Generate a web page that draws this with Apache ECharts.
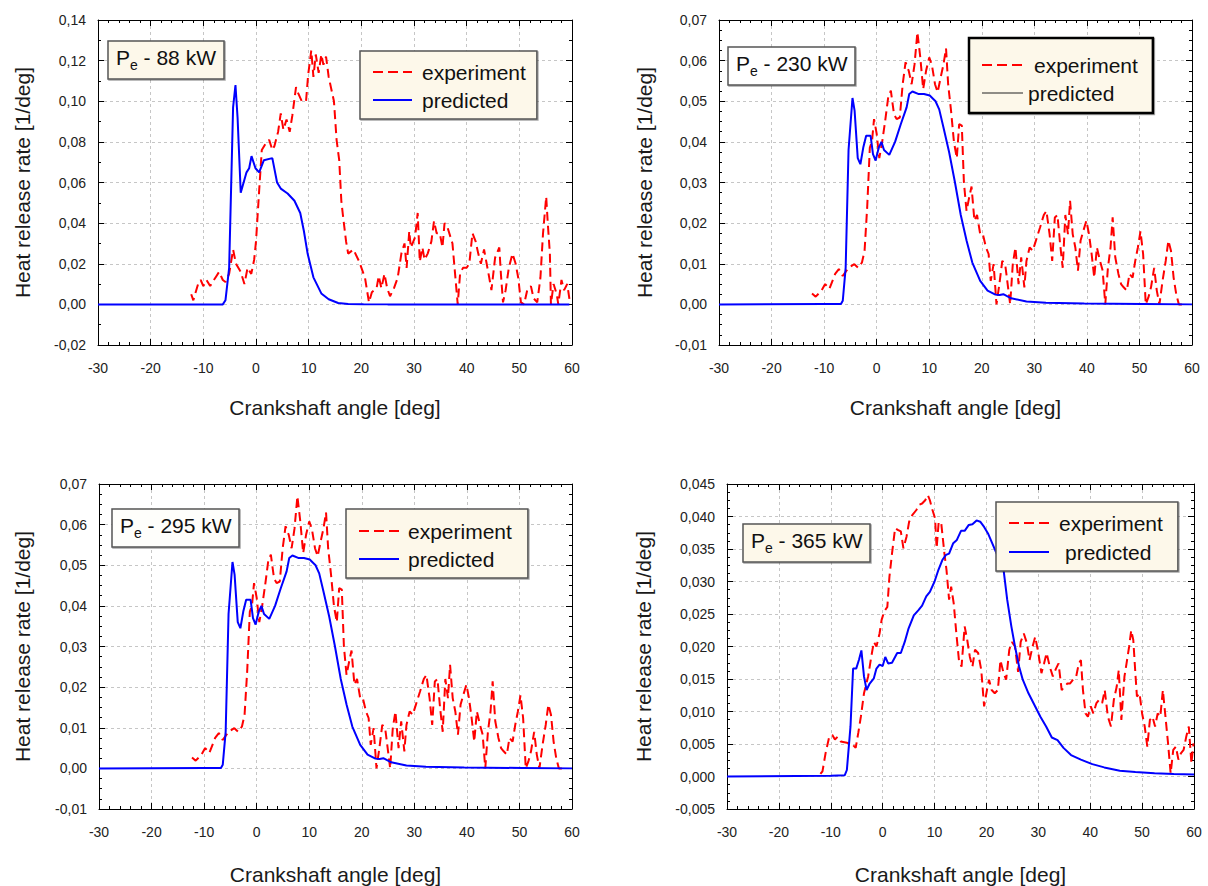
<!DOCTYPE html>
<html><head><meta charset="utf-8">
<script src="https://cdn.jsdelivr.net/npm/echarts@6/dist/echarts.min.js"></script>
<style>html,body{margin:0;padding:0;background:#fff}#c{width:1208px;height:886px}</style>
</head><body><div id="c"></div>
<script>
// ---------- data (crank angle [deg], heat release rate [1/deg]) ----------
const xRange = [-30, 60, 10];
const yRange88 = [-0.02, 0.14, 0.02];
const yRange230 = [-0.01, 0.07, 0.01];
const yRange295 = [-0.01, 0.07, 0.01];
const yRange365 = [-0.005, 0.045, 0.005];
const titles = ['88 kW', '230 kW', '295 kW', '365 kW'];
const seriesNames = ['experiment', 'predicted'];

const exp88 = [[-12.3,0.005],[-11.9,0.002],[-11.0,0.010],[-10.5,0.012],[-10.0,0.009],[-9.4,0.012],[-8.7,0.009],[-8.0,0.012],[-7.5,0.014],[-7.0,0.016],[-6.3,0.012],[-5.8,0.011],[-5.1,0.015],[-4.35,0.027],[-3.8,0.020],[-2.9,0.016],[-2.2,0.010],[-1.6,0.018],[-0.9,0.015],[-0.35,0.022],[0.0,0.031],[0.6,0.056],[1.1,0.076],[1.8,0.079],[2.5,0.081],[3.1,0.076],[3.5,0.078],[4.2,0.085],[4.7,0.094],[5.2,0.086],[5.8,0.091],[6.4,0.085],[6.9,0.093],[7.6,0.107],[8.0,0.104],[8.7,0.100],[9.5,0.100],[9.9,0.113],[10.5,0.125],[10.9,0.112],[11.35,0.123],[11.9,0.114],[12.4,0.123],[12.8,0.118],[13.3,0.122],[13.8,0.112],[14.8,0.100],[15.3,0.081],[15.8,0.071],[16.2,0.051],[16.5,0.044],[17.1,0.031],[17.5,0.025],[18.5,0.027],[19.6,0.021],[20.7,0.013],[21.45,0.001],[22.0,0.006],[22.9,0.008],[23.3,0.014],[23.8,0.008],[24.4,0.015],[24.9,0.008],[25.45,0.004],[26.2,0.008],[26.9,0.013],[27.6,0.025],[28.2,0.030],[28.6,0.018],[29.1,0.036],[29.4,0.028],[30.2,0.033],[30.7,0.045],[31.1,0.021],[31.6,0.028],[32.0,0.022],[32.6,0.025],[33.3,0.031],[33.8,0.041],[34.3,0.035],[34.9,0.035],[35.4,0.028],[35.8,0.040],[36.35,0.038],[37.3,0.030],[37.8,0.015],[38.3,0.000],[38.75,0.015],[39.3,0.018],[40.0,0.018],[40.5,0.020],[41.1,0.035],[41.7,0.031],[42.2,0.025],[42.7,0.020],[43.3,0.027],[43.8,0.020],[44.3,0.013],[44.7,0.007],[45.4,0.023],[46.2,0.028],[46.5,0.015],[46.9,0.001],[47.4,0.007],[48.0,0.018],[48.7,0.025],[49.3,0.020],[49.8,0.013],[50.3,0.001],[50.9,0.000],[51.5,0.007],[52.2,0.009],[52.7,0.003],[53.4,0.001],[54.0,0.013],[54.5,0.035],[55.1,0.053],[55.4,0.040],[55.8,0.025],[56.0,0.000],[56.5,0.010],[57.1,0.005],[57.4,0.000],[58.0,0.012],[58.5,0.007],[59.1,0.010],[59.6,0.001]];
const pred88 = [[-30,0],[-6.3,0],[-5.8,0.002],[-5.1,0.018],[-4.35,0.097],[-3.9,0.108],[-3.5,0.092],[-2.9,0.055],[-1.8,0.065],[-1.3,0.067],[-0.85,0.073],[-0.1,0.067],[0.6,0.065],[1.5,0.071],[3.1,0.072],[4.0,0.060],[4.7,0.057],[6.0,0.0546],[7.3,0.051],[8.4,0.045],[9.1,0.036],[9.8,0.025],[10.9,0.0133],[12.4,0.0054],[13.8,0.0025],[15.6,0.0007],[17.5,0.0002],[20.4,0.0001],[25,0],[59.5,0]];

const exp230 = [[-12.3,0.0027],[-11.6,0.0019],[-10.5,0.0034],[-9.8,0.005],[-9.0,0.0038],[-7.9,0.0075],[-7.2,0.0087],[-6.45,0.007],[-5.35,0.009],[-4.25,0.0099],[-3.5,0.009],[-2.8,0.0103],[-2.3,0.0132],[-1.8,0.024],[-1.3,0.0386],[-0.9,0.040],[-0.5,0.0456],[0.0,0.042],[0.5,0.036],[1.05,0.040],[1.6,0.045],[2.2,0.051],[2.7,0.0526],[3.3,0.0468],[3.8,0.0456],[4.4,0.046],[4.95,0.0542],[5.5,0.0596],[6.1,0.0575],[6.65,0.0542],[7.2,0.059],[7.75,0.067],[8.3,0.0608],[8.85,0.053],[9.4,0.0575],[10.0,0.0608],[10.5,0.059],[11.1,0.0542],[11.6,0.0522],[12.2,0.056],[12.7,0.059],[13.2,0.063],[13.6,0.0542],[14.15,0.0477],[14.7,0.040],[15.25,0.036],[15.7,0.0444],[16.2,0.044],[16.6,0.030],[17.1,0.023],[17.6,0.0263],[18.05,0.029],[18.6,0.0206],[19.1,0.022],[19.7,0.0173],[20.2,0.0173],[20.8,0.014],[21.3,0.0124],[21.7,0.0058],[22.25,0.0099],[22.8,0.0],[23.35,0.005],[23.9,0.0107],[24.45,0.0099],[25.0,0.0042],[25.4,0.0],[25.9,0.0099],[26.4,0.014],[27.0,0.005],[27.5,0.0116],[28.1,0.0042],[28.5,0.0107],[29.1,0.014],[29.7,0.0132],[30.3,0.0157],[31.1,0.019],[31.8,0.022],[32.3,0.023],[32.9,0.0173],[33.4,0.0107],[33.9,0.0214],[34.4,0.022],[34.9,0.0149],[35.4,0.009],[35.9,0.022],[36.4,0.0173],[36.8,0.0255],[37.3,0.0173],[37.8,0.014],[38.3,0.0083],[38.8,0.0157],[39.3,0.018],[39.9,0.0206],[40.4,0.0173],[40.9,0.0124],[41.4,0.0066],[41.9,0.014],[42.5,0.0107],[43.0,0.0083],[43.5,0.0],[44.0,0.009],[44.5,0.014],[44.9,0.0214],[45.4,0.0116],[46.0,0.0075],[46.5,0.005],[47.0,0.0042],[47.6,0.0034],[48.1,0.0075],[48.7,0.0066],[49.2,0.0107],[49.7,0.014],[50.2,0.018],[50.7,0.0124],[51.2,0.0],[51.7,0.0017],[52.2,0.0042],[52.8,0.009],[53.3,0.0034],[53.8,0.0],[54.4,0.0058],[55.0,0.0107],[55.5,0.0157],[56.0,0.0132],[56.5,0.0066],[57.0,0.0025],[57.5,0.0],[58.5,0.0]];
const pred230 = [[-30,0],[-10,0.0001],[-6.8,0.0001],[-6.45,0.0009],[-5.9,0.009],[-5.35,0.038],[-4.6,0.0508],[-4.2,0.0477],[-3.6,0.036],[-3.1,0.0345],[-2.55,0.0386],[-2.0,0.0415],[-1.15,0.0415],[-0.7,0.037],[-0.2,0.0354],[0.4,0.0386],[0.9,0.040],[1.4,0.038],[2.4,0.0368],[3.5,0.040],[4.6,0.0444],[5.7,0.0485],[6.2,0.0518],[6.8,0.0524],[7.9,0.0518],[9.0,0.0518],[10.1,0.0514],[11.2,0.050],[11.9,0.048],[12.7,0.0436],[13.8,0.0374],[14.9,0.030],[16.0,0.022],[17.1,0.0157],[18.2,0.0103],[19.7,0.0058],[21.1,0.0034],[22.6,0.0024],[23.4,0.0023],[24.1,0.0025],[25.6,0.0015],[28.5,0.0007],[32.2,0.0004],[39.5,0.0002],[50.6,0.0001],[60,0.0]];

// the 295 kW panel shows the same curves as the 230 kW panel
const exp295 = exp230;
const pred295 = pred230;

const exp365 = [[-12.0,0.0004],[-11.6,0.0008],[-11.0,0.0036],[-10.3,0.0061],[-9.7,0.0064],[-9.2,0.0057],[-8.7,0.0061],[-8.1,0.0054],[-6.9,0.0052],[-5.8,0.0049],[-5.2,0.0044],[-4.7,0.0067],[-4.2,0.0092],[-3.6,0.0128],[-2.8,0.0154],[-2.2,0.0184],[-1.7,0.0207],[-1.2,0.020],[-0.6,0.022],[-0.2,0.0241],[0.3,0.0254],[0.9,0.0261],[1.3,0.0307],[1.8,0.0343],[2.4,0.0382],[3.0,0.0379],[3.5,0.0377],[4.0,0.0351],[4.6,0.0369],[5.1,0.0392],[5.7,0.0402],[6.5,0.041],[7.0,0.0418],[7.6,0.042],[8.2,0.0425],[8.7,0.0433],[9.1,0.0425],[9.6,0.041],[10.1,0.0397],[10.4,0.0351],[10.8,0.0392],[11.3,0.0389],[11.9,0.0343],[12.3,0.0318],[12.8,0.0272],[13.2,0.0292],[13.7,0.0266],[14.2,0.022],[14.7,0.0179],[15.2,0.0169],[15.8,0.0231],[16.3,0.021],[16.8,0.0184],[17.3,0.0169],[17.8,0.0195],[18.4,0.019],[19.0,0.0164],[19.55,0.0108],[20.1,0.0133],[20.5,0.0149],[21.0,0.0133],[21.6,0.0128],[22.2,0.0133],[22.7,0.0179],[23.3,0.0159],[23.8,0.0149],[24.4,0.0195],[24.9,0.0207],[25.5,0.020],[26.1,0.0161],[26.6,0.0207],[27.2,0.022],[27.8,0.0205],[28.3,0.0179],[28.9,0.020],[29.4,0.0215],[30.0,0.019],[30.6,0.0159],[31.1,0.0174],[31.6,0.019],[32.2,0.0169],[32.8,0.0154],[33.4,0.0166],[33.9,0.0174],[34.5,0.0133],[35.0,0.0138],[35.6,0.0143],[36.1,0.0143],[36.7,0.0149],[37.3,0.0154],[37.8,0.0174],[38.2,0.0179],[38.6,0.0133],[39.1,0.0097],[39.55,0.0092],[40.1,0.0108],[40.6,0.0097],[41.2,0.0113],[41.7,0.0118],[42.3,0.0113],[42.8,0.0133],[43.4,0.0092],[44.0,0.0077],[44.55,0.0118],[45.1,0.0138],[45.5,0.0164],[46.0,0.0087],[46.6,0.0154],[47.0,0.0174],[47.5,0.020],[47.9,0.0225],[48.3,0.021],[48.7,0.0159],[49.0,0.0123],[49.5,0.0128],[50.0,0.0097],[50.5,0.0077],[51.0,0.0046],[51.5,0.0087],[52.0,0.0092],[52.5,0.0077],[53.0,0.0097],[53.5,0.0092],[54.0,0.0133],[54.5,0.0092],[55.0,0.0051],[55.5,0.0005],[56.0,0.0041],[56.5,0.0046],[57.0,0.0026],[57.5,0.0036],[58.0,0.0041],[58.5,0.0061],[59.0,0.0077],[59.5,0.002],[59.9,0.0051]];
const pred365 = [[-30,0],[-10,0.0001],[-7.3,0.0002],[-6.9,0.001],[-6.2,0.0077],[-5.7,0.0166],[-5.1,0.0166],[-4.55,0.018],[-4.1,0.0194],[-3.6,0.0154],[-3.1,0.0133],[-2.5,0.0143],[-1.7,0.0151],[-1.2,0.0166],[-0.6,0.0172],[0.0,0.017],[0.5,0.0184],[1.05,0.0174],[1.8,0.0175],[2.8,0.019],[3.5,0.019],[4.25,0.0207],[5.0,0.0228],[6.0,0.0248],[6.9,0.0256],[7.6,0.0263],[8.4,0.0277],[9.1,0.0284],[10.0,0.030],[10.75,0.0318],[11.5,0.0333],[12.2,0.0341],[12.8,0.0343],[13.6,0.0359],[14.3,0.0364],[15.1,0.0378],[15.8,0.0378],[16.6,0.0387],[17.3,0.0388],[18.1,0.0394],[18.8,0.0392],[19.55,0.0384],[20.3,0.0374],[21.0,0.0361],[21.8,0.0346],[22.5,0.0333],[23.3,0.0318],[24.0,0.0272],[24.8,0.0231],[25.5,0.020],[26.3,0.0169],[27.0,0.0149],[28.1,0.0128],[29.25,0.011],[30.4,0.0092],[31.5,0.0077],[32.6,0.006],[33.7,0.0056],[34.85,0.0044],[36.3,0.0033],[38.2,0.0026],[40.4,0.0019],[42.7,0.0014],[45.7,0.0009],[48.7,0.0007],[52.4,0.0005],[56.1,0.0004],[60,0.0003]];

// ---------- layout / styling ----------
const FONT = '"Liberation Sans", Arial, Helvetica, sans-serif';
const CREAM = '#fdf8ea';
const panels = [
  {grid:{left:98, top:20, width:474, height:325}, y:yRange88, dec:2, minor:2, exp:exp88, pred:pred88, yGap:65, xGap:52,
   title:{left:108, top:36, bg:CREAM},
   legend:{left:360, top:51, padding:[10,11,8,12], itemWidth:39, itemGap:6, expPad:5, predPad:5, border:'#555', bw:1.5}},
  {grid:{left:719, top:20, width:473, height:325}, y:yRange230, dec:2, minor:4, exp:exp230, pred:pred230, yGap:64, xGap:52,
   title:{left:728, top:42, bg:'#ffffff'},
   legend:{left:969, top:38, padding:[16,15,9,12], itemWidth:41, itemGap:6, expPad:6, predPad:0, border:'#000', bw:2.5, predBlack:true}},
  {grid:{left:99, top:484, width:473, height:325}, y:yRange295, dec:2, minor:4, exp:exp295, pred:pred295, yGap:66, xGap:55,
   title:{left:112, top:504, bg:'#fefefb'},
   legend:{left:346, top:509, padding:[11,16,8,12], itemWidth:40, itemGap:6, expPad:4, predPad:4, border:'#555', bw:1.5}},
  {grid:{left:727, top:484, width:467, height:325}, y:yRange365, dec:3, minor:4, exp:exp365, pred:pred365, yGap:73, xGap:55,
   title:{left:743, top:519, bg:CREAM},
   legend:{left:996, top:502, padding:[10,15,8,12], itemWidth:40, itemGap:7, expPad:5, predPad:11, border:'#555', bw:1.5}}
];

const fmt = (d) => (v) => (Math.abs(v) < 1e-12 ? 0 : v).toFixed(d).replace('.', ',');
const tickCol = '#000';
const gridLine = {show:true, lineStyle:{color:'#c6c6c6', type:[3,3], width:1}};
const hiddenSymbol = {opacity:0, color:'rgba(0,0,0,0)', borderWidth:0};

const option = {
  backgroundColor:'#fff',
  animation:false,
  grid:[], xAxis:[], yAxis:[], series:[], title:[], legend:[]
};

panels.forEach((p, i) => {
  option.grid.push(Object.assign({containLabel:false}, p.grid));
  const common = {
    gridIndex:i, type:'value',
    axisLine:{show:true, onZero:false, lineStyle:{color:tickCol, width:1}},
    axisTick:{show:true, inside:true, length:6, lineStyle:{color:tickCol}},
  };
  option.xAxis.push(Object.assign({}, common, {
    position:'bottom', min:xRange[0], max:xRange[1], interval:xRange[2],
    minorTick:{show:true, splitNumber:5, length:3, lineStyle:{color:tickCol}},
    splitLine:gridLine,
    axisLabel:{fontSize:14, color:'#222', margin:16, fontFamily:FONT},
    name:'Crankshaft angle [deg]', nameLocation:'middle', nameGap:p.xGap,
    nameTextStyle:{fontSize:21, color:'#1a1a1a', fontFamily:FONT}
  }));
  option.xAxis.push(Object.assign({}, common, {
    position:'top', min:xRange[0], max:xRange[1], interval:xRange[2],
    minorTick:{show:true, splitNumber:5, length:3, lineStyle:{color:tickCol}},
    splitLine:{show:false}, axisLabel:{show:false}
  }));
  option.yAxis.push(Object.assign({}, common, {
    position:'left', min:p.y[0], max:p.y[1], interval:p.y[2],
    minorTick:{show:true, splitNumber:p.minor, length:3, lineStyle:{color:tickCol}},
    splitLine:gridLine,
    axisLabel:{fontSize:14, color:'#222', margin:12, fontFamily:FONT, formatter:fmt(p.dec)},
    name:'Heat release rate [1/deg]', nameLocation:'middle', nameGap:p.yGap, nameRotate:90,
    nameTextStyle:{fontSize:21, color:'#1a1a1a', fontFamily:FONT}
  }));
  option.yAxis.push(Object.assign({}, common, {
    position:'right', min:p.y[0], max:p.y[1], interval:p.y[2],
    minorTick:{show:true, splitNumber:p.minor, length:3, lineStyle:{color:tickCol}},
    splitLine:{show:false}, axisLabel:{show:false}
  }));

  option.series.push({
    type:'line', name:seriesNames[0], xAxisIndex:i*2, yAxisIndex:i*2, data:p.exp,
    symbol:'none', showSymbol:false, clip:true, z:2,
    lineStyle:{color:'#ff0000', width:2, type:[9,5]}, itemStyle:{color:'#ff0000'}
  });
  option.series.push({
    type:'line', name:seriesNames[1], xAxisIndex:i*2, yAxisIndex:i*2, data:p.pred,
    symbol:'none', showSymbol:false, clip:true, z:3,
    lineStyle:{color:'#0000ff', width:2}, itemStyle:{color:'#0000ff'}
  });

  option.title.push({
    text:'{p|P}{s|e}{p| - ' + titles[i] + '}',
    left:p.title.left, top:p.title.top, padding:[6,8,7,8],
    backgroundColor:p.title.bg, borderColor:'#555', borderWidth:1.5,
    shadowColor:'rgba(0,0,0,0.35)', shadowBlur:1, shadowOffsetX:1, shadowOffsetY:1,
    textStyle:{fontWeight:'normal', rich:{
      p:{fontSize:21, lineHeight:30, color:'#111', fontFamily:FONT, fontWeight:'normal', verticalAlign:'middle'},
      s:{fontSize:14, lineHeight:14, color:'#111', fontFamily:FONT, fontWeight:'normal', verticalAlign:'bottom'}
    }}
  });

  const L = p.legend;
  option.legend.push({
    orient:'vertical', left:L.left, top:L.top, padding:L.padding,
    itemWidth:L.itemWidth, itemHeight:14, itemGap:L.itemGap, selectedMode:false,
    backgroundColor:CREAM, borderColor:L.border, borderWidth:L.bw,
    shadowColor:'rgba(0,0,0,0.35)', shadowBlur:1, shadowOffsetX:1, shadowOffsetY:1,
    textStyle:{fontSize:21, lineHeight:22, color:'#111', fontFamily:FONT},
    itemStyle:hiddenSymbol,
    data:[
      {name:seriesNames[0], itemStyle:hiddenSymbol,
       lineStyle:{color:'#ff0000', width:2, type:[10,5]},
       textStyle:{padding:[0,0,0,L.expPad], fontSize:21, lineHeight:22, color:'#111', fontFamily:FONT}},
      {name:seriesNames[1], itemStyle:hiddenSymbol,
       lineStyle: L.predBlack ? {color:'#222', width:1.2, type:'solid'} : {color:'#0000ff', width:2, type:'solid'},
       textStyle:{padding:[0,0,0,L.predPad], fontSize:21, lineHeight:22, color:'#111', fontFamily:FONT}}
    ]
  });
});

const chart = echarts.init(document.getElementById('c'), null, {renderer:'svg', width:1208, height:886});
chart.setOption(option);
</script>
</body></html>
